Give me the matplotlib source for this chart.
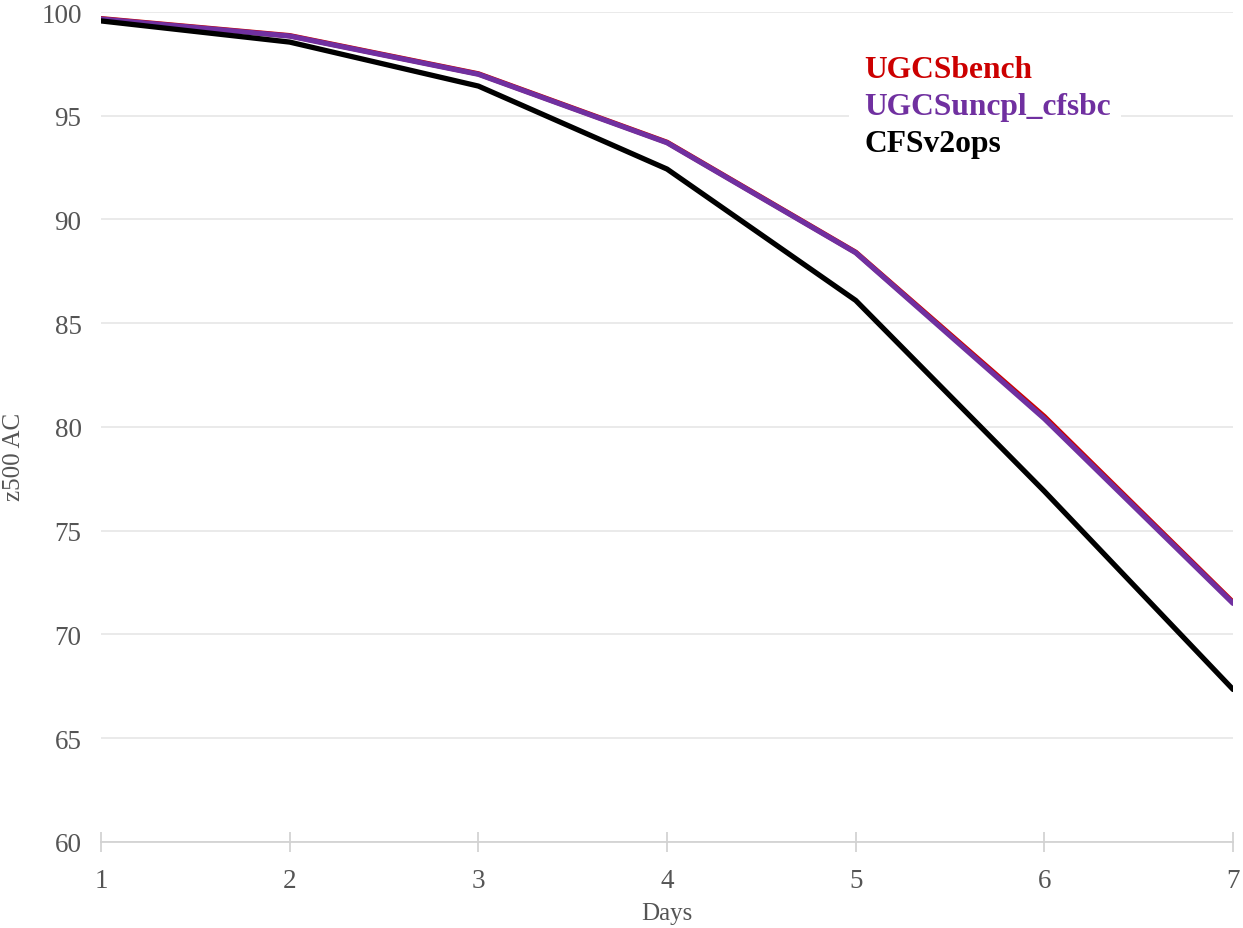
import matplotlib.pyplot as plt
import numpy as np

plt.rcParams['font.family'] = ['Liberation Serif', 'DejaVu Serif']

days = [1, 2, 3, 4, 5, 6, 7]
ugcs_bench = [99.68, 98.86, 97.02, 93.72, 88.42, 80.5, 71.55]
ugcs_uncpl = [99.66, 98.84, 97.0, 93.7, 88.4, 80.4, 71.5]
cfsv2_ops = [99.57, 98.55, 96.43, 92.43, 86.1, 76.9, 67.35]

names = ['UGCSbench', 'UGCSuncpl_cfsbc', 'CFSv2ops']
colors = ['#cc0000', '#7030a0', '#000000']

fig = plt.figure(figsize=(12.43, 9.29), dpi=100)
ax = fig.add_axes([0.0813, 0.0926, 0.9107, 0.8934])

for vals, c in zip([ugcs_bench, ugcs_uncpl, cfsv2_ops], colors):
    ax.plot(days, vals, color=c, lw=3.8, solid_capstyle='round', solid_joinstyle='round', zorder=3)

ax.set_xlim(1, 7)
ax.set_ylim(60, 100)
ax.set_xticks(days)
ax.set_yticks(np.arange(60, 101, 5))
ax.grid(axis='y', color='#e6e6e6', lw=1.2)
ax.set_axisbelow(True)
for s in ['top', 'right', 'left']:
    ax.spines[s].set_visible(False)
ax.spines['bottom'].set_color('#d0d0d0')
ax.spines['bottom'].set_linewidth(1.2)
ax.tick_params(axis='y', length=0, pad=14, labelsize=19.5, labelcolor='#555555')
ax.tick_params(axis='x', direction='inout', length=14, color='#d0d0d0', width=1.2,
               pad=12, labelsize=19.5, labelcolor='#555555')
ax.set_xlabel('Days', fontsize=18, color='#555555', labelpad=6)
ax.set_ylabel('z500 AC', fontsize=18, color='#555555')
ax.yaxis.set_label_coords(-0.067, 0.465)

# legend as coloured bold text on a white box
ax.add_patch(plt.Rectangle((0.661, 0.78), 0.24, 0.165, transform=ax.transAxes,
                           facecolor='white', edgecolor='none', zorder=2))
for i, (n, c) in enumerate(zip(names, colors)):
    ax.text(0.674, 0.931 - i * 0.0445, n, transform=ax.transAxes, color=c,
            fontsize=22.7, fontweight='bold', va='center', ha='left', zorder=4)

fig.savefig('out.png', dpi=100)
